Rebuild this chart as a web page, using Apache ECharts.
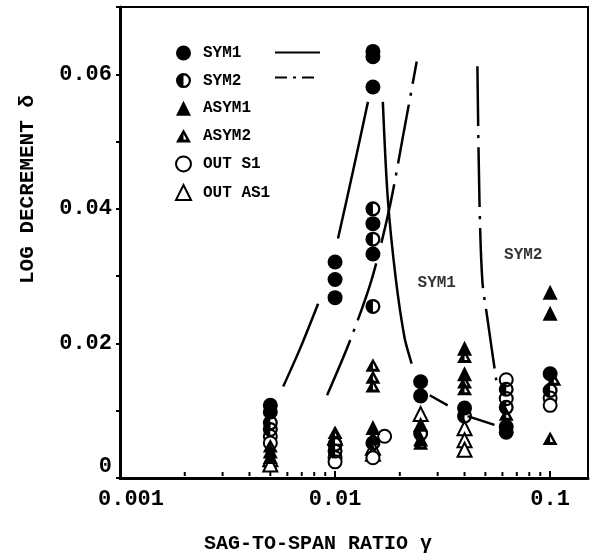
<!DOCTYPE html>
<html><head><meta charset="utf-8">
<script src="https://cdn.jsdelivr.net/npm/echarts@6/dist/echarts.min.js"></script>
<style>html,body{margin:0;padding:0;background:#fff}#c{width:592px;height:559px}</style>
</head><body><div id="c"></div>
<script>
// ---- data (x = sag-to-span ratio, y = log decrement) ----
const sym1 = [[0.005,0.0108],[0.005,0.0098],[0.01,0.0321],[0.01,0.0295],[0.01,0.0268],
  [0.015,0.0634],[0.015,0.0626],[0.015,0.0581],[0.015,0.0378],[0.015,0.0333],
  [0.025,0.0143],[0.025,0.0122],[0.04,0.0104],[0.0625,0.0076],[0.0625,0.0068],[0.1,0.0155]];
const sym2 = [[0.005,0.0082],[0.005,0.0072],[0.01,0.0050],[0.01,0.0040],
  [0.015,0.0400],[0.015,0.0355],[0.015,0.0255],[0.015,0.0052],[0.025,0.0066],
  [0.04,0.0092],[0.0625,0.0132],[0.0625,0.0105],[0.1,0.0130]];
const asym1 = [[0.005,0.0040],[0.005,0.0032],[0.015,0.0075],[0.015,0.0060],
  [0.025,0.0080],[0.025,0.0058],[0.04,0.0193],[0.04,0.0155],[0.1,0.0276],[0.1,0.0245]];
const asym2 = [[0.005,0.0048],[0.01,0.0068],[0.015,0.0168],[0.015,0.0150],[0.015,0.0137],
  [0.025,0.0052],[0.04,0.0181],[0.04,0.0143],[0.04,0.0133],[0.0625,0.0095],[0.104,0.0147],[0.1,0.0059]];
const outS1 = [[0.005,0.0062],[0.005,0.0052],[0.01,0.0030],[0.01,0.0024],[0.017,0.0062],
  [0.015,0.0030],[0.0625,0.0146],[0.0625,0.0118],[0.1,0.0119],[0.1,0.0108]];
const outAS1 = [[0.005,0.0028],[0.005,0.0020],[0.01,0.0060],[0.015,0.0045],[0.015,0.0036],
  [0.025,0.0095],[0.04,0.0074],[0.04,0.0056],[0.04,0.0042]];
// fitted curves (null = break in the drawn line)
const sym1Curve = [[0.00574,0.0136],[0.00689,0.0193],[0.00834,0.0259],null,
  [0.01032,0.0356],[0.0121,0.0455],[0.01422,0.0559],null,
  [0.01668,0.0559],[0.01759,0.0415],[0.01916,0.0296],[0.02109,0.0207],[0.0227,0.0170],null,
  [0.02754,0.0123],[0.0334,0.0108],null,[0.0413,0.0092],[0.0551,0.0079]];
const sym2Curve = [[0.00918,0.0123],[0.01173,0.0204],[0.01483,0.0296],[0.01798,0.0404],
  [0.02086,0.0514],[0.02397,0.0619],null,
  [0.0459,0.0612],[0.0469,0.0415],[0.0484,0.0293],[0.0511,0.0237],[0.0562,0.0145]];
const curveLabels = [{name:'SYM1', value:[0.0297,0.0290]},{name:'SYM2', value:[0.075,0.0332]}];
const xMinorTicks = [0.002,0.003,0.004,0.005,0.006,0.007,0.008,0.009,
  0.02,0.03,0.04,0.05,0.06,0.07,0.08,0.09];
const yMin = 0, yMax = 0.07, yInterval = 0.01;
const xMin = 0.001, xMax = 0.15;

const FONT = 'Liberation Mono';
const halfCircle = 'path://M10,0A10,10 0 0,0 10,20Z M10,0A10,10 0 0,1 10,20L10,17A7,7 0 0,0 10,3Z';
const halfTri = 'path://M10,0L10,18L0,18Z M10,0L20,18L10,18L10,14L14,14L10,6.5Z';

const chart = echarts.init(document.getElementById('c'));
const emptyStyle = {color:'#000', borderColor:'#000', borderWidth:2.5, opacity:1};
const fillStyle = {color:'#000', borderWidth:0, opacity:1};
function sc(name, data, symbol, size, style){
  return {type:'scatter', name, data, symbol, symbolSize:size, itemStyle:style, z:3, clip:false,
    symbolKeepAspect:true, emphasis:{disabled:true}};
}
chart.setOption({
  backgroundColor:'#fff',
  animation:false,
  grid:{left:120, right:4, top:7, bottom:79, show:true, borderColor:'#000', borderWidth:2},
  xAxis:{type:'log', logBase:10, min:xMin, max:xMax,
    axisLine:{lineStyle:{color:'#000', width:3}},
    axisTick:{inside:true, length:7, lineStyle:{color:'#000', width:2}},
    splitLine:{show:false},
    axisLabel:{color:'#000', fontFamily:FONT, fontWeight:'bold', fontSize:22, margin:10,
      formatter:v=>{const l=Math.log10(v); if(Math.abs(l-Math.round(l))>1e-6) return '';
        if(Math.round(l)===-3) return '{a|0.001}'; return String(+v.toPrecision(1));},
      rich:{a:{fontFamily:FONT, fontWeight:'bold', fontSize:22, padding:[0,0,0,22]}}},
    name:'SAG-TO-SPAN RATIO γ', nameLocation:'middle', nameGap:56,
    nameTextStyle:{color:'#000', fontFamily:FONT, fontWeight:'bold', fontSize:20, padding:[0,72,0,0]}},
  yAxis:{type:'value', min:yMin, max:yMax, interval:yInterval,
    axisLine:{show:true, lineStyle:{color:'#000', width:3}},
    axisTick:{show:true, inside:false, length:4, lineStyle:{color:'#000', width:2}},
    splitLine:{show:false},
    axisLabel:{color:'#000', fontFamily:FONT, fontWeight:'bold', fontSize:22, margin:8,
      formatter:v=>{const k=Math.round(v*100); if(k%2!==0) return ''; if(k===0) return '{z|0}'; return v.toFixed(2);},
      rich:{z:{fontFamily:FONT, fontWeight:'bold', fontSize:22, padding:[0,0,24,0]}}},
    name:'LOG DECREMENT δ', nameLocation:'middle', nameGap:82, nameRotate:90,
    nameTextStyle:{color:'#000', fontFamily:FONT, fontWeight:'bold', fontSize:21, padding:[0,0,0,106]}},
  legend:[
    {data:['SYM1','SYM2','ASYM1','ASYM2','OUT S1','OUT AS1'], orient:'vertical', left:170, top:40,
     itemWidth:15, itemHeight:15, itemGap:11.6, selectedMode:false,
     textStyle:{color:'#000', fontFamily:FONT, fontWeight:'bold', fontSize:16, padding:[0,0,0,7]}},
    {data:[{name:'SYM1 curve'},{name:'SYM2 curve', lineStyle:{type:[12,6,3,6]}}], orient:'vertical',
     left:269, top:40, itemWidth:45, itemHeight:15, itemGap:11.6, selectedMode:false, formatter:()=>'',
     itemStyle:{opacity:0}}
  ],
  series:[
    {type:'line', name:'SYM1 curve', data:sym1Curve, symbol:'none', smooth:0.3, connectNulls:false, z:1,
     lineStyle:{color:'#000', width:2.5}, itemStyle:{color:'#000'}},
    {type:'line', name:'SYM2 curve', data:sym2Curve, symbol:'none', smooth:0.3, connectNulls:false, z:1,
     lineStyle:{color:'#000', width:2.5, type:[60,9,3,9]}, itemStyle:{color:'#000'}},
    sc('OUT AS1', outAS1, 'emptyTriangle', 14, emptyStyle),
    sc('OUT S1', outS1, 'emptyCircle', 13, emptyStyle),
    sc('ASYM2', asym2, halfTri, 15, fillStyle),
    sc('ASYM1', asym1, 'triangle', 15, fillStyle),
    sc('SYM2', sym2, halfCircle, 15, fillStyle),
    sc('SYM1', sym1, 'circle', 15, fillStyle),
    {type:'scatter', name:'labels', data:curveLabels, symbolSize:1, itemStyle:{color:'rgba(0,0,0,0)'}, z:4,
     label:{show:true, position:'inside', formatter:p=>p.name, color:'#000', fontFamily:FONT, fontWeight:'bold', fontSize:16}},
    {type:'scatter', name:'minor ticks', data:xMinorTicks.map(v=>[v,0]), symbol:'rect', symbolSize:[2,4],
     symbolOffset:[0,-4], itemStyle:{color:'#000', opacity:1}, silent:true, clip:false, z:5}
  ]
});
</script></body></html>
